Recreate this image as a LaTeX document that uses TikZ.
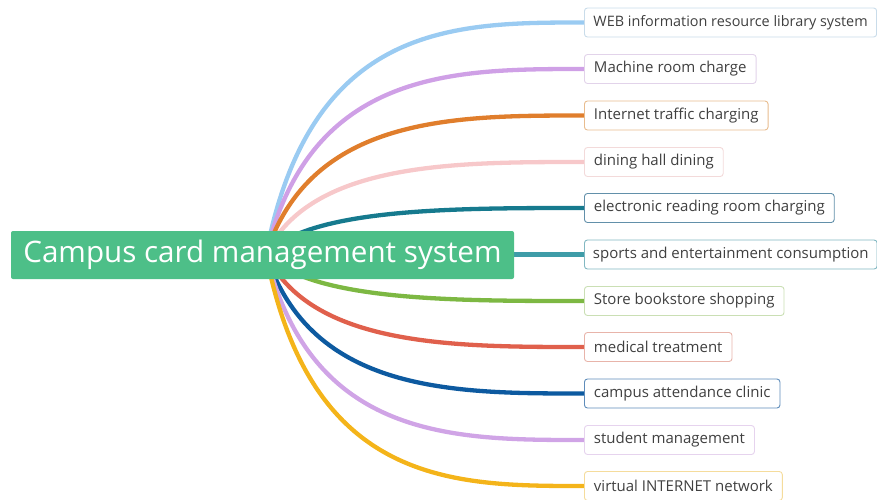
\documentclass[tikz,border=0pt]{standalone}
\usepackage{fontspec}
\setmainfont{Open Sans}
\usetikzlibrary{calc,backgrounds}
\definecolor{rootgreen}{HTML}{4DBF88}
\definecolor{cA}{HTML}{9ACBF2}\definecolor{bA}{HTML}{C9DCEA}
\definecolor{cB}{HTML}{CFA0E6}\definecolor{bB}{HTML}{E2D3EA}
\definecolor{cC}{HTML}{E07E2C}\definecolor{bC}{HTML}{E8BC8E}
\definecolor{cD}{HTML}{F7C8CA}\definecolor{bD}{HTML}{F3DADA}
\definecolor{cE}{HTML}{167A8E}\definecolor{bE}{HTML}{6290AA}
\definecolor{cF}{HTML}{3E9CA8}\definecolor{bF}{HTML}{82B8C2}
\definecolor{cG}{HTML}{7DB843}\definecolor{bG}{HTML}{CADFB4}
\definecolor{cH}{HTML}{E0604C}\definecolor{bH}{HTML}{E8B4AA}
\definecolor{cI}{HTML}{0D5AA0}\definecolor{bI}{HTML}{5E8CBA}
\definecolor{cJ}{HTML}{D0A4E6}\definecolor{bJ}{HTML}{E6D3EE}
\definecolor{cK}{HTML}{F4B41A}\definecolor{bK}{HTML}{F5DC9C}
\begin{document}
\begin{tikzpicture}[x=1pt,y=-1pt,
  leaf/.style={draw=#1, line width=0.9pt, fill=white, rounded corners=3pt, anchor=west,
    minimum height=29pt, inner xsep=9.5pt, inner ysep=0pt,
    font=\fontsize{15}{16}\selectfont, text=black!75},
  branch/.style={line width=4.3pt, draw=#1},
  rootbox/.style={fill=rootgreen, rounded corners=2pt, minimum width=503pt, minimum height=48pt,
    inner sep=0pt, text=white, font=\fontsize{29.6}{34}\selectfont}]
\useasboundingbox (0,0) rectangle (877,499);
\node[rootbox] (root) at (262.5,255) {Campus card management system};
\coordinate (O) at ($(root.center)+(3.5,-1)$);
\node[leaf=bA, font=\fontsize{14.4}{16}\selectfont, inner xsep=9pt] (n1) at (584,22.5) {WEB information resource library system};
\node[leaf=bB] (n2) at (584,69) {Machine room charge};
\node[leaf=bC] (n3) at (584,115.5) {Internet traffic charging};
\node[leaf=bD] (n4) at (584,162) {dining hall dining};
\node[leaf=bE] (n5) at (584,208) {electronic reading room charging};
\node[leaf=bF, inner xsep=8.5pt] (n6) at (584,254.5) {sports and entertainment consumption};
\node[leaf=bG] (n7) at (584,301) {Store bookstore shopping};
\node[leaf=bH] (n8) at (584,347) {medical treatment};
\node[leaf=bI] (n9) at (584,393.5) {campus attendance clinic};
\node[leaf=bJ] (n10) at (584,440) {student management};
\node[leaf=bK] (n11) at (584,486) {virtual INTERNET network};
\begin{scope}[on background layer]
\foreach \n/\c in {n1/cA,n2/cB,n3/cC,n4/cD,n5/cE,n7/cG,n8/cH,n9/cI,n10/cJ,n11/cK}{
  \draw[branch=\c] (O) .. controls ($(O |- \n.west)+(45,0)$) and ($(O |- \n.west)+(188,0)$) .. (\n.west);
}
\draw[branch=cF] (root.east |- n6.west) -- (n6.west);
\end{scope}
\end{tikzpicture}
\end{document}
